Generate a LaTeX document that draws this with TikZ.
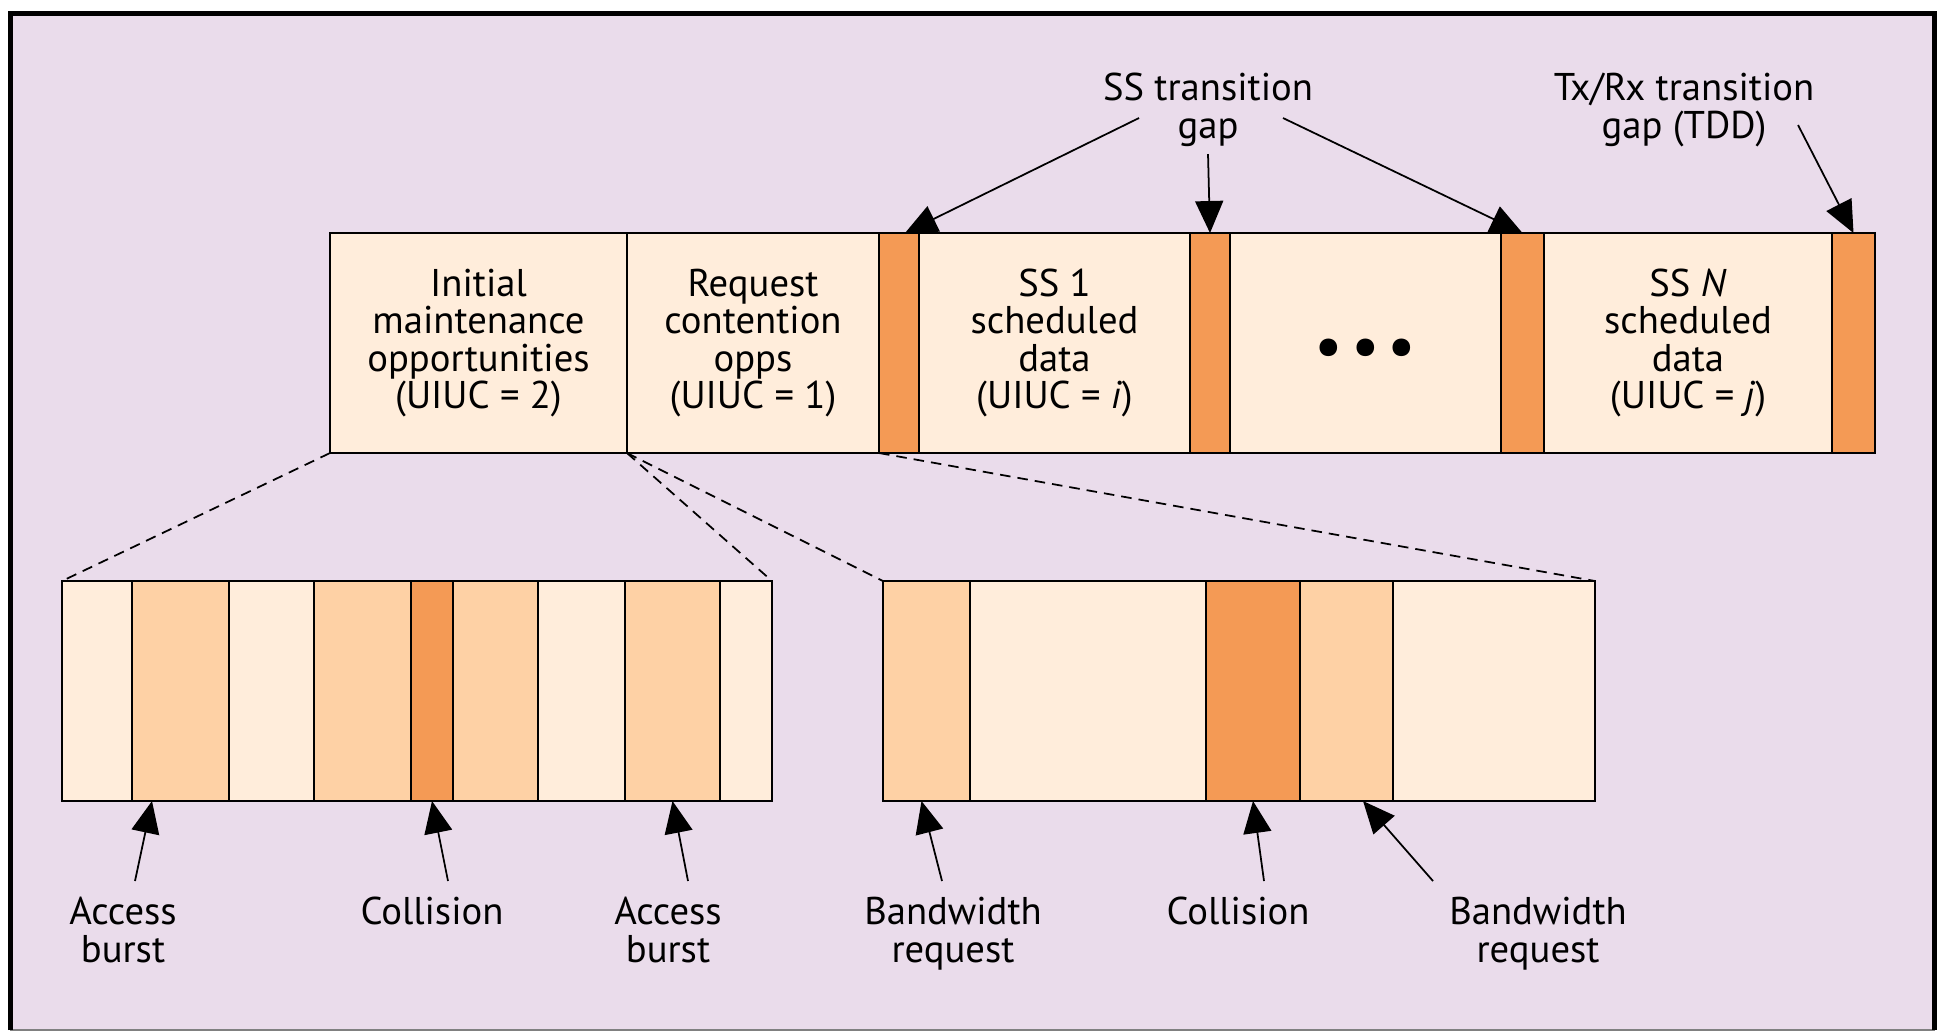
\documentclass[tikz,border=0pt]{standalone}
\usepackage{fontspec}
\setmainfont{PT Sans}
\usetikzlibrary{arrows.meta, positioning}

\definecolor{bgpurple}{HTML}{EADCEB}
\definecolor{slotlight}{HTML}{FFEDDB}
\definecolor{slotmid}{HTML}{FED1A5}
\definecolor{slotdark}{HTML}{F49A55}

\tikzset{
  slot/.style = {draw, line width=0.6pt, minimum height=2.2cm, inner sep=0pt,
                 outer sep=0pt, align=center, font=\fontsize{11}{10.7}\selectfont},
  lbl/.style = {align=center, inner sep=0pt, anchor=north,
                font=\fontsize{11}{11}\selectfont},
  pointer/.style = {-{Triangle[length=3.2mm, width=2.8mm]}, line width=0.5pt},
  zoomline/.style = {densely dashed, line width=0.5pt}
}

\begin{document}
\begin{tikzpicture}

\useasboundingbox (0,0) rectangle (19.41,-10.32);
\fill [bgpurple] (0.105,-0.135) rectangle (19.345,-10.30);
\draw [gray, line width=0.5pt] (0.105,-10.30) -- (19.345,-10.30);
\draw [line width=1.3pt] (0.105,-10.30) -- (0.105,-0.135) -- (19.345,-0.135) -- (19.345,-10.30);

% uplink frame
\node (init) [slot, fill=slotlight, minimum width=2.97cm, anchor=north west] at (3.30,-2.33)
      {Initial\\maintenance\\opportunities\\(UIUC = 2)};
\node (req)   [slot, fill=slotlight, minimum width=2.52cm, right=0pt of init]
      {Request\\contention\\opps\\(UIUC = 1)};
\node (gapa)  [slot, fill=slotdark,  minimum width=0.40cm, right=0pt of req] {};
\node (ssone) [slot, fill=slotlight, minimum width=2.71cm, right=0pt of gapa]
      {SS 1\\scheduled\\data\\(UIUC = \textit{i})};
\node (gapb)  [slot, fill=slotdark,  minimum width=0.40cm, right=0pt of ssone] {};
\node (dots)  [slot, fill=slotlight, minimum width=2.71cm, right=0pt of gapb]
      {\fontsize{18}{18}\selectfont\raisebox{-2.4mm}[0pt][0pt]{•\hspace{2.2pt}•\hspace{2.2pt}•}};
\node (gapc)  [slot, fill=slotdark,  minimum width=0.43cm, right=0pt of dots] {};
\node (ssn)   [slot, fill=slotlight, minimum width=2.88cm, right=0pt of gapc]
      {SS \textit{N}\\scheduled\\data\\(UIUC = \textit{j})};
\node (gapd)  [slot, fill=slotdark,  minimum width=0.43cm, right=0pt of ssn] {};

% initial maintenance slots
\node (m1) [slot, fill=slotlight, minimum width=0.70cm, anchor=north west] at (0.62,-5.81) {};
\node (m2) [slot, fill=slotmid,   minimum width=0.97cm, right=0pt of m1] {};
\node (m3) [slot, fill=slotlight, minimum width=0.85cm, right=0pt of m2] {};
\node (m4) [slot, fill=slotmid,   minimum width=0.97cm, right=0pt of m3] {};
\node (m5) [slot, fill=slotdark,  minimum width=0.42cm, right=0pt of m4] {};
\node (m6) [slot, fill=slotmid,   minimum width=0.85cm, right=0pt of m5] {};
\node (m7) [slot, fill=slotlight, minimum width=0.87cm, right=0pt of m6] {};
\node (m8) [slot, fill=slotmid,   minimum width=0.95cm, right=0pt of m7] {};
\node (m9) [slot, fill=slotlight, minimum width=0.52cm, right=0pt of m8] {};

% request contention slots
\node (c1) [slot, fill=slotmid,   minimum width=0.87cm, anchor=north west] at (8.83,-5.81) {};
\node (c2) [slot, fill=slotlight, minimum width=2.36cm, right=0pt of c1] {};
\node (c3) [slot, fill=slotdark,  minimum width=0.94cm, right=0pt of c2] {};
\node (c4) [slot, fill=slotmid,   minimum width=0.93cm, right=0pt of c3] {};
\node (c5) [slot, fill=slotlight, minimum width=2.02cm, right=0pt of c4] {};

\draw [zoomline] (init.south west) -- (m1.north west);
\draw [zoomline] (init.south east) -- (m9.north east);
\draw [zoomline] (req.south west) -- (c1.north west);
\draw [zoomline] (req.south east) -- (c5.north east);

% labels
\node (ssgap) [lbl] at (12.08,-0.72) {SS transition\\gap};
\node (txgap) [lbl] at (16.84,-0.72) {Tx/Rx transition\\gap (TDD)};

\node (accA) [lbl] at (1.23,-8.96)  {Access\\burst};
\node (colA) [lbl] at (4.32,-8.96)  {Collision};
\node (accB) [lbl] at (6.68,-8.96)  {Access\\burst};
\node (bwA)  [lbl] at (9.53,-8.96)  {Bandwidth\\request};
\node (colB) [lbl] at (12.38,-8.96) {Collision};
\node (bwB)  [lbl] at (15.38,-8.96) {Bandwidth\\request};

\draw [pointer] ([xshift=-6.9mm, yshift=-4.6mm]ssgap.north) -- ([xshift=0.6mm]gapa.north);
\draw [pointer] ([yshift=-8.2mm]ssgap.north) -- (gapb.north);
\draw [pointer] ([xshift=7.5mm, yshift=-4.6mm]ssgap.north) -- (gapc.north);
\draw [pointer] ([xshift=11.4mm, yshift=-5.3mm]txgap.north) -- (gapd.north);

\draw [pointer] ([xshift=1.2mm, yshift=1.5mm]accA.north) -- ([xshift=2mm]m2.south west);
\draw [pointer] ([xshift=1.6mm, yshift=1.5mm]colA.north) -- (m5.south);
\draw [pointer] ([xshift=2mm, yshift=1.5mm]accB.north) -- (m8.south);
\draw [pointer] ([xshift=-1.1mm, yshift=1.5mm]bwA.north) -- ([xshift=-0.5mm]c1.south);
\draw [pointer] ([xshift=2.6mm, yshift=1.5mm]colB.north) -- (c3.south);
\draw [pointer] ([xshift=-10.5mm, yshift=1.5mm]bwB.north) -- ([xshift=-3mm]c4.south east);

\end{tikzpicture}
\end{document}
